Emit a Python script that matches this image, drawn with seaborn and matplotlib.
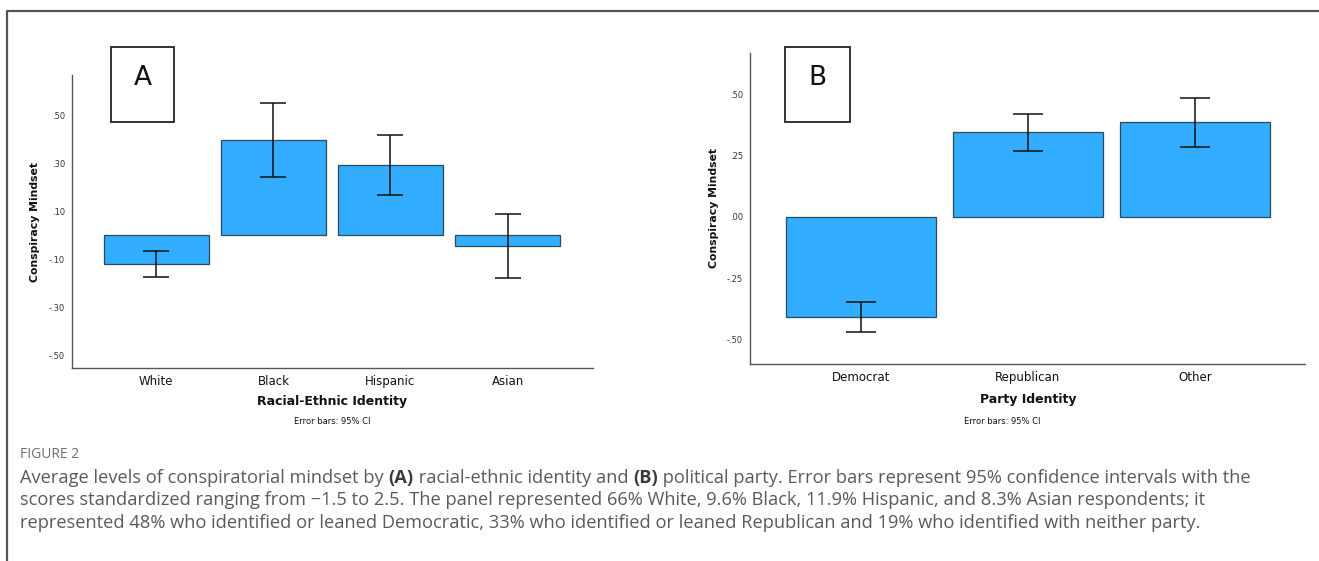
import matplotlib
matplotlib.use("Agg")
import matplotlib.pyplot as plt
import seaborn as sns
import pandas as pd
import numpy as np
from matplotlib.patches import Rectangle
from matplotlib.lines import Line2D

# ---------------- data ----------------
race_cats = ["White", "Black", "Hispanic", "Asian"]
race_mean = [-0.12, 0.396, 0.292, -0.044]
race_low = [-0.175, 0.242, 0.167, -0.179]
race_high = [-0.067, 0.55, 0.417, 0.087]
race_ticks = [-0.5, -0.3, -0.1, 0.1, 0.3, 0.5]
race_ticklabels = ["-.50", "-.30", "-.10", ".10", ".30", ".50"]

party_cats = ["Democrat", "Republican", "Other"]
party_mean = [-0.407, 0.346, 0.386]
party_low = [-0.467, 0.268, 0.285]
party_high = [-0.346, 0.419, 0.484]
party_ticks = [-0.5, -0.25, 0.0, 0.25, 0.5]
party_ticklabels = ["-.50", "-.25", ".00", ".25", ".50"]

caption_head = "FIGURE 2"
caption_l1 = ["Average levels of conspiratorial mindset by ", "(A)", " racial-ethnic identity and ", "(B)",
              " political party. Error bars represent 95% confidence intervals with the"]
caption_l2 = "scores standardized ranging from \u22121.5 to 2.5. The panel represented 66% White, 9.6% Black, 11.9% Hispanic, and 8.3% Asian respondents; it"
caption_l3 = "represented 48% who identified or leaned Democratic, 33% who identified or leaned Republican and 19% who identified with neither party."

# ---------------- style ----------------
sns.set_theme(style="white")
plt.rcParams["font.family"] = ["DejaVu Sans"]

W, H = 1319, 561
fig = plt.figure(figsize=(W / 100, H / 100), dpi=100)

def fx(px):
    return px / W

def fy(py):
    return 1 - py / H

BAR = "#33adff"
EDGE = "#2b4a5e"

def panel(left, right, top, bottom, cats, mean, low, high, ylim, ticks, ticklabels,
          xlim, capw):
    ax = fig.add_axes([fx(left), fy(bottom), fx(right - left), fy(top) - fy(bottom)])
    df = pd.DataFrame({"cat": cats, "val": mean})
    sns.barplot(data=df, x="cat", y="val", order=cats, color=BAR, saturation=1,
                width=0.9, edgecolor=EDGE, linewidth=0.9, errorbar=None, ax=ax)
    m = np.array(mean)
    ax.errorbar(np.arange(len(cats)), m, yerr=[m - np.array(low), np.array(high) - m],
                fmt="none", ecolor="#111111", elinewidth=1.1, capsize=capw, capthick=1.1)
    ax.set_ylim(*ylim)
    ax.set_xlim(*xlim)
    ax.set_yticks(ticks)
    ax.set_yticklabels(ticklabels, fontsize=6, color="#333333")
    ax.tick_params(axis="both", length=0, pad=5)
    ax.tick_params(axis="x", labelsize=8.5, labelcolor="#111111", pad=5)
    for s in ["top", "right"]:
        ax.spines[s].set_visible(False)
    for s in ["left", "bottom"]:
        ax.spines[s].set_color("#555555")
        ax.spines[s].set_linewidth(1.0)
    ax.set_xlabel("")
    ax.set_ylabel("Conspiracy Mindset", fontsize=7.8, fontweight="bold", labelpad=6,
                  color="#111111")
    ax.set_facecolor("white")
    return ax

axA = panel(72, 593, 75, 368, race_cats, race_mean, race_low, race_high,
            (-0.554, 0.667), race_ticks, race_ticklabels, (-0.72, 3.73), 9.5)
axB = panel(750, 1305, 53, 364, party_cats, party_mean, party_low, party_high,
            (-0.598, 0.667), party_ticks, party_ticklabels, (-0.665, 2.66), 10.5)

# axis titles & notes
fig.text(fx(332), fy(402), "Racial-Ethnic Identity", fontsize=9, fontweight="bold",
         ha="center", va="center", color="#111111")
fig.text(fx(332), fy(422), "Error bars: 95% CI", fontsize=6, ha="center", va="center", color="#111111")
fig.text(fx(1028), fy(400), "Party Identity", fontsize=9, fontweight="bold",
         ha="center", va="center", color="#111111")
fig.text(fx(1002), fy(422), "Error bars: 95% CI", fontsize=6, ha="center", va="center", color="#111111")

# letter boxes
for (x0, x1, y0, y1, letter) in [(111, 174, 47, 122, "A"), (785, 850, 47, 122, "B")]:
    fig.patches.append(Rectangle((fx(x0), fy(y1)), fx(x1 - x0), fy(y0) - fy(y1),
                                 transform=fig.transFigure, facecolor="white",
                                 edgecolor="#222222", linewidth=1.3, zorder=5))
    fig.text(fx((x0 + x1) / 2), fy(78), letter, fontsize=19, ha="center", va="center",
             color="#111111", zorder=6)

# outer frame (top and left)
fig.lines.append(Line2D([fx(7), fx(7), 1.0], [0.0, fy(11), fy(11)], transform=fig.transFigure,
                        color="#555555", linewidth=1.6))

# caption: calibrate font size so first line spans ~1240 px
CAP = "#5a5a5a"
cap_font = "Open Sans"
renderer = fig.canvas.get_renderer()
probe = fig.text(0, 0, "".join(caption_l1), fontsize=10, family=cap_font)
wprobe = probe.get_window_extent(renderer=renderer).width
probe.remove()
cap_size = 10 * 1228 / wprobe

fig.text(fx(20), fy(455), caption_head, fontsize=10, color="#707070", ha="left", va="center",
         family=cap_font)
x_px = 20
for piece in caption_l1:
    bold = piece.startswith("(")
    t = fig.text(fx(x_px), fy(483), piece, fontsize=cap_size, color="#3a3a3a" if bold else CAP,
                 fontweight="bold" if bold else "normal", ha="left", va="baseline",
                 family=cap_font)
    x_px = t.get_window_extent(renderer=renderer).x1
fig.text(fx(20), fy(505), caption_l2, fontsize=cap_size, color=CAP, ha="left", va="baseline",
         family=cap_font)
fig.text(fx(20), fy(528), caption_l3, fontsize=cap_size, color=CAP, ha="left", va="baseline",
         family=cap_font)

fig.savefig("out.png", dpi=100, facecolor="white")
